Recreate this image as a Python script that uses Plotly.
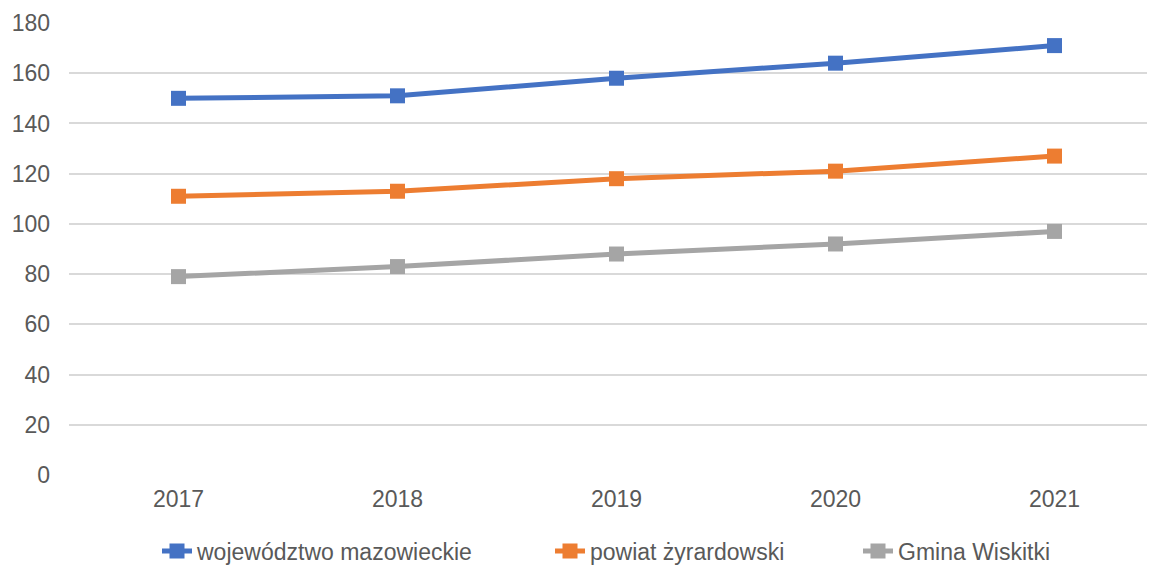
import plotly.graph_objects as go

years = ["2017", "2018", "2019", "2020", "2021"]
mazowieckie = [150, 151, 158, 164, 171]
zyrardowski = [111, 113, 118, 121, 127]
wiskitki = [79, 83, 88, 92, 97]

series = [
    ("województwo mazowieckie", mazowieckie, "#4472C4", "legend"),
    ("powiat żyrardowski", zyrardowski, "#ED7D31", "legend2"),
    ("Gmina Wiskitki", wiskitki, "#A5A5A5", "legend3"),
]

fig = go.Figure()
for name, vals, col, leg in series:
    fig.add_trace(go.Scatter(
        x=years, y=vals, name=name, mode="lines+markers",
        line=dict(color=col, width=5),
        marker=dict(symbol="square", size=15, color=col),
        legend=leg,
    ))

W, H = 1147, 559  # page body has an 8px default margin; compensate


def leg(text_left_px):
    return dict(orientation="h", xref="container", yref="container",
                x=(text_left_px - 8 - 40) / W, xanchor="left",
                y=(H - 543) / H, yanchor="middle",
                font=dict(size=23, color="#595959"),
                bgcolor="rgba(0,0,0,0)")


fig.update_layout(
    width=W, height=H,
    margin=dict(l=61, r=7, t=15, b=92, autoexpand=False),
    paper_bgcolor="white", plot_bgcolor="white",
    font=dict(family="Liberation Sans, Arial", color="#595959", size=23),
    showlegend=True,
    legend=leg(197),
    legend2=leg(590),
    legend3=leg(898),
    xaxis=dict(type="category", range=[-0.5, 4.427], showgrid=False, zeroline=False,
               showline=False, ticks="", tickfont=dict(size=23, color="#595959"),
               ticklabelstandoff=8, automargin=False),
    yaxis=dict(range=[0, 180], dtick=20, showgrid=True, gridcolor="#D9D9D9",
               gridwidth=1.5, zeroline=False, showline=False, ticks="",
               tickfont=dict(size=23, color="#595959"), ticklabelstandoff=18,
               automargin=False),
)

fig.write_html("out.html")
